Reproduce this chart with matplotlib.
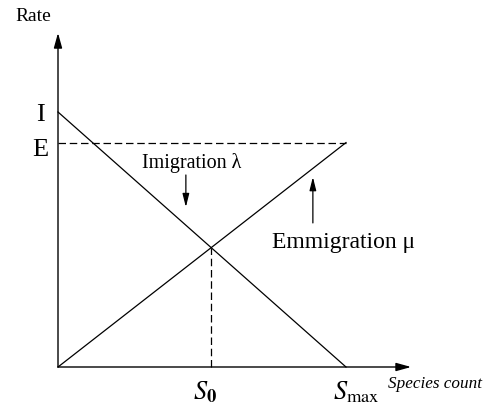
import numpy as np
import matplotlib
matplotlib.use('Agg')
import matplotlib.pyplot as plt

plt.rcParams['font.family'] = ['Liberation Serif', 'DejaVu Serif']
plt.rcParams['mathtext.fontset'] = 'stix'

# model values (normalised)
i_rate = 1.0      # immigration rate at S = 0
e_rate = 0.88     # emigration rate at S = S_max
s_max = 1.0
s_axis = np.array([0.0, s_max])
imig = i_rate * (1 - s_axis / s_max)
emig = e_rate * s_axis / s_max

# equilibrium where the two rates cross
s0 = i_rate / (i_rate + e_rate) * s_max
r0 = e_rate * s0 / s_max

fig = plt.figure(figsize=(4.91, 4.09), dpi=100)
ax = fig.add_axes([0, 0, 1, 1])
ax.set_xlim(-0.2014, 1.5035)
ax.set_ylim(-0.1647, 1.4392)
ax.axis('off')

lw = 0.9
ax.plot(s_axis, imig, color='black', lw=lw)
ax.plot(s_axis, emig, color='black', lw=lw)
ax.plot([0, s_max], [e_rate, e_rate], color='black', lw=lw, ls=(0, (6, 3)))
ax.plot([s0, s0], [0, r0], color='black', lw=lw, ls=(0, (6, 3)))

# axes with arrow heads
arrow = dict(arrowstyle='-|>,head_length=0.9,head_width=0.25', color='black',
             lw=1.0, shrinkA=0, shrinkB=0)
ax.annotate('', xy=(1.226, 0), xytext=(0, 0), arrowprops=arrow)
ax.annotate('', xy=(0, 1.31), xytext=(0, 0), arrowprops=arrow)

# pointers to the curves
small = dict(arrowstyle='-|>,head_length=0.8,head_width=0.2', color='black',
             lw=0.9, shrinkA=0, shrinkB=0)
ax.annotate('', xy=(0.444, 0.627), xytext=(0.444, 0.753), arrowprops=small)
ax.annotate('', xy=(0.885, 0.745), xytext=(0.885, 0.565), arrowprops=small)

ax.text(-0.087, 1.373, 'Rate', fontsize=14, ha='center', va='center')
ax.text(-0.0625, 0.99, 'I', fontsize=19, ha='center', va='center')
ax.text(-0.0625, 0.85, 'E', fontsize=19, ha='center', va='center')
ax.text(0.465, 0.8, 'Imigration λ', fontsize=14.5, ha='center', va='center')
ax.text(0.993, 0.49, 'Emmigration μ', fontsize=17, ha='center', va='center')

ax.text(s0 - 0.02, -0.129, r'$S_{\mathbf{0}}$', fontsize=19, ha='center', va='baseline')
ax.text(0.955, -0.129, r'$S_{\mathrm{max}}$', fontsize=19, ha='left', va='baseline')
ax.text(1.146, -0.082, 'Species count', fontsize=12.3, style='italic', ha='left', va='baseline')

fig.savefig('out.png', dpi=100)
